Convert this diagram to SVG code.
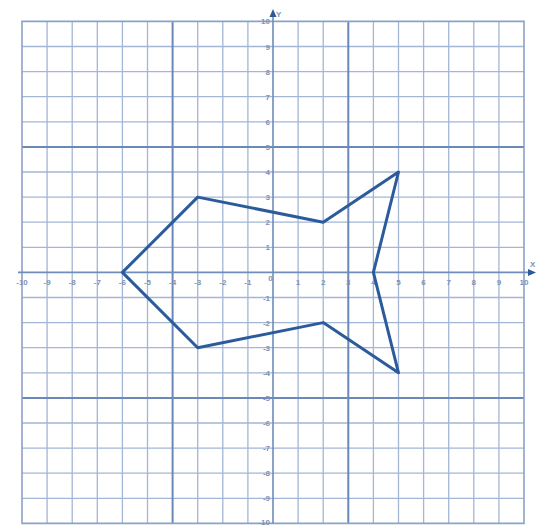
<svg xmlns="http://www.w3.org/2000/svg" width="544" height="526" viewBox="0 0 544 526">
<style>
.g{stroke:#a3b6d5;stroke-width:1.3;fill:none}
.t{stroke:#6a89b8;stroke-width:2;fill:none}
.bd{stroke:#8aa2c8;stroke-width:1.6;fill:none}
.ax{stroke:#6f8dbb;stroke-width:1.6;fill:none}
.lb{font-family:"Liberation Sans",Arial,sans-serif;font-size:8px;fill:#7d92b8;font-weight:bold}
.xl{text-anchor:middle}
.yl{text-anchor:end}
.shape{fill:none;stroke:#2c5b9c;stroke-width:3;stroke-linejoin:round}
</style>
<rect width="544" height="526" fill="#ffffff"/>
<g id="grid">
<path class="g" d="M47.1 21.4V523.4M72.2 21.4V523.4M97.3 21.4V523.4M122.4 21.4V523.4M147.5 21.4V523.4M197.7 21.4V523.4M222.8 21.4V523.4M247.9 21.4V523.4M298.1 21.4V523.4M323.2 21.4V523.4M373.4 21.4V523.4M398.5 21.4V523.4M423.6 21.4V523.4M448.7 21.4V523.4M473.8 21.4V523.4M498.9 21.4V523.4"/>
<path class="g" d="M22 46.5H524M22 71.6H524M22 96.7H524M22 121.8H524M22 172H524M22 197.1H524M22 222.2H524M22 247.3H524M22 297.5H524M22 322.6H524M22 347.7H524M22 372.8H524M22 423H524M22 448.1H524M22 473.2H524M22 498.3H524"/>
<path class="t" d="M172.6 21.4V523.4M348.3 21.4V523.4M22 146.9H524M22 397.9H524"/>
<path class="bd" d="M22 21.4H524V523.4H22Z"/>
</g>
<g id="axes">
<path class="ax" d="M273 14V523.4M18 272.4H530"/>
<polygon points="273,9 269.5,17 276.5,17" fill="#2c5b9c"/>
<polygon points="536,272.4 528,268.9 528,275.9" fill="#2c5b9c"/>
<text class="lb" x="276" y="17">Y</text>
<text class="lb" x="530" y="267">X</text>
</g>
<g id="x-labels" class="lb xl">
<text x="22" y="285">-10</text><text x="47.1" y="285">-9</text><text x="72.2" y="285">-8</text><text x="97.3" y="285">-7</text><text x="122.4" y="285">-6</text><text x="147.5" y="285">-5</text><text x="172.6" y="285">-4</text><text x="197.7" y="285">-3</text><text x="222.8" y="285">-2</text><text x="247.9" y="285">-1</text><text x="270.5" y="281">0</text><text x="298.1" y="285">1</text><text x="323.2" y="285">2</text><text x="348.3" y="285">3</text><text x="373.4" y="285">4</text><text x="398.5" y="285">5</text><text x="423.6" y="285">6</text><text x="448.7" y="285">7</text><text x="473.8" y="285">8</text><text x="498.9" y="285">9</text><text x="524" y="285">10</text>
</g>
<g id="y-labels" class="lb yl">
<text x="270" y="24.4">10</text><text x="270" y="49.5">9</text><text x="270" y="74.6">8</text><text x="270" y="99.7">7</text><text x="270" y="124.8">6</text><text x="270" y="149.9">5</text><text x="270" y="175">4</text><text x="270" y="200.1">3</text><text x="270" y="225.2">2</text><text x="270" y="250.3">1</text><text x="270" y="300.5">-1</text><text x="270" y="325.6">-2</text><text x="270" y="350.7">-3</text><text x="270" y="375.8">-4</text><text x="270" y="400.9">-5</text><text x="270" y="426">-6</text><text x="270" y="451.1">-7</text><text x="270" y="476.2">-8</text><text x="270" y="501.3">-9</text><text x="270" y="524.5">-10</text>
</g>
<g id="fish">
<polygon class="shape" points="122.4,272.4 197.7,197.1 323.2,222.2 398.5,172 373.4,272.4 398.5,372.8 323.2,322.6 197.7,347.7"/>
</g>
</svg>
